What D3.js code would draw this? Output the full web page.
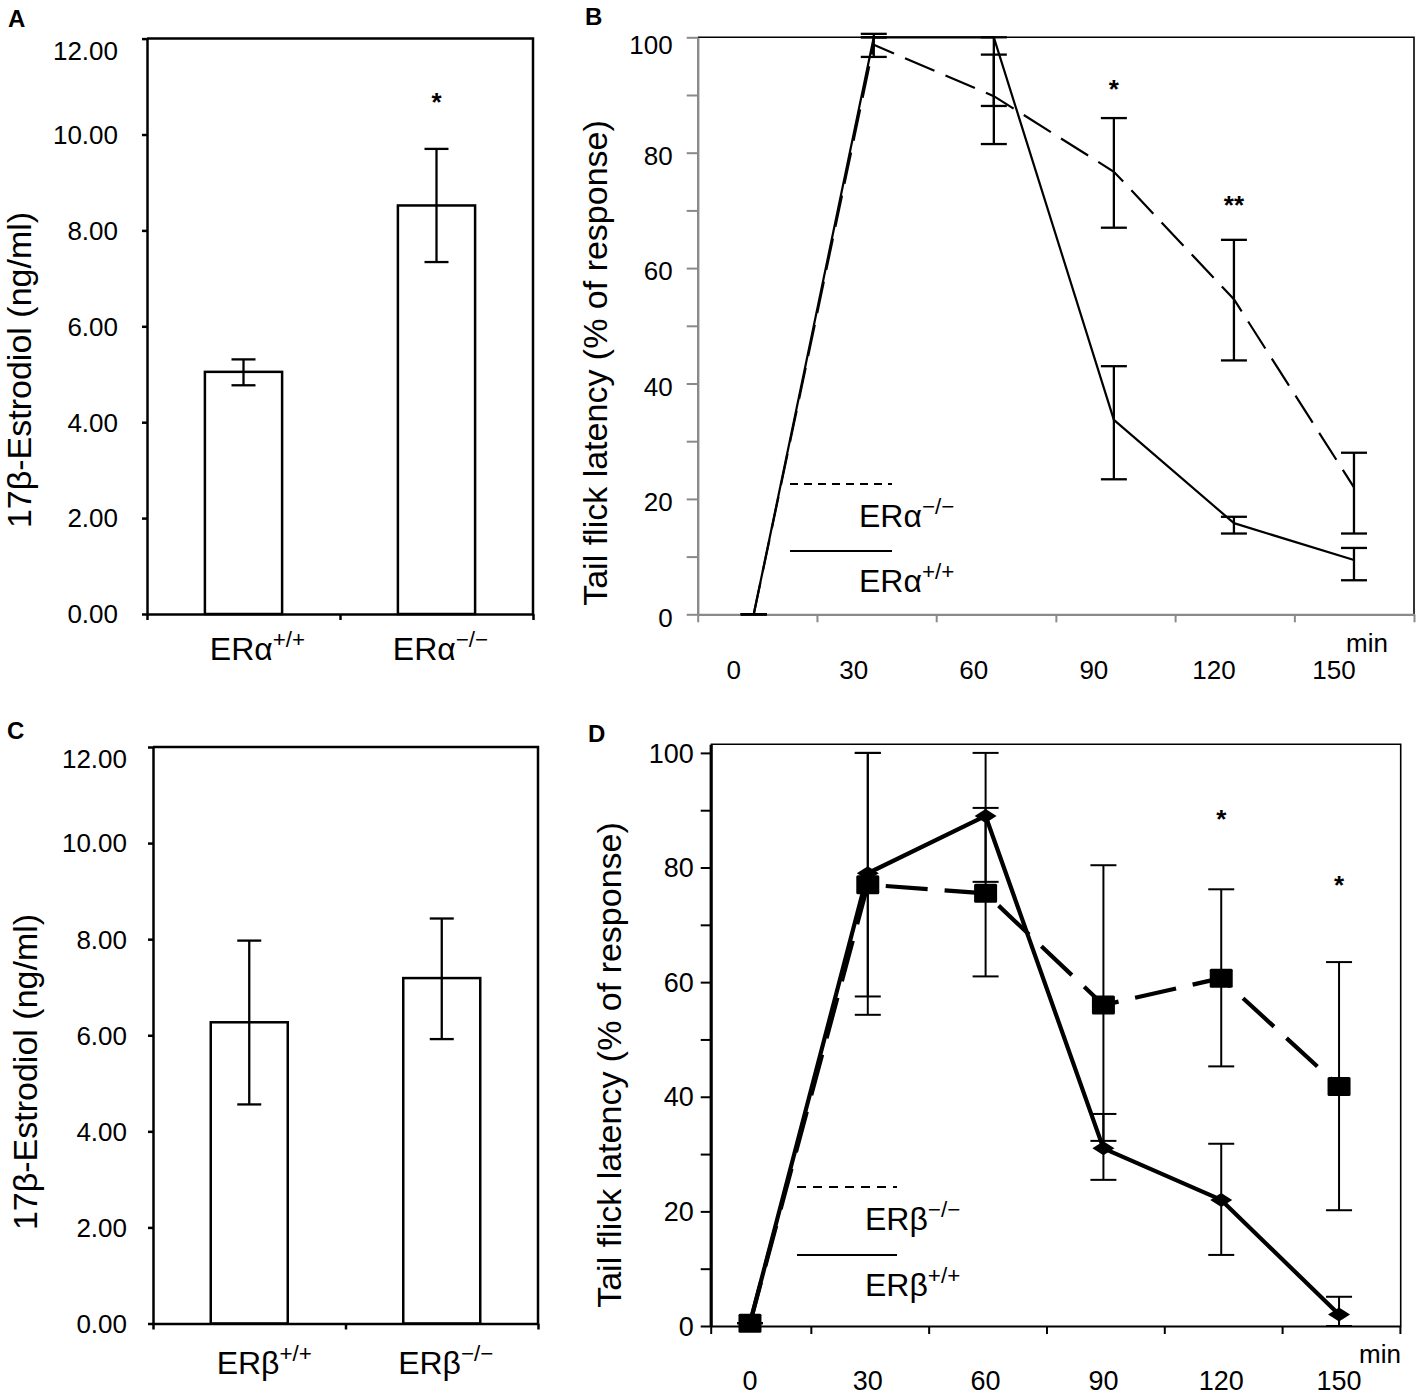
<!DOCTYPE html>
<html><head><meta charset="utf-8">
<script src="https://cdn.jsdelivr.net/npm/d3@7"></script>
<style>
body{margin:0;background:#fff}
svg text{font-family:"Liberation Sans",Arial,sans-serif;fill:#000}
</style>
</head><body>
<svg id="c" width="1416" height="1396"></svg>
<script>
// ---------- DATA ----------
const yTicksBar = [0, 2, 4, 6, 8, 10, 12];

// Panel A
const catsA = ["ERα+/+", "ERα−/−"];
const meansA = [5.05, 8.52];
const errLoA = [4.77, 7.34];
const errHiA = [5.31, 9.70];
const sigA = ["", "*"];
const sigYA = [null, 10.8];

// Panel C
const catsC = ["ERβ+/+", "ERβ−/−"];
const meansC = [6.27, 7.19];
const errLoC = [4.56, 5.92];
const errHiC = [7.97, 8.43];

// Panel B (ERα time course, min)
const timesB = [0, 30, 60, 90, 120, 150];
const wtB = [0, 100, 100, 33.7, 15.8, 9.4];
const wtBLo = [0, 100, 88.1, 23.4, 14.0, 5.9];
const wtBHi = [0, 100, 100, 43.0, 16.9, 11.5];
const koB = [0, 98.7, 89.8, 76.7, 54.6, 22.0];
const koBLo = [0, 96.6, 81.5, 67.0, 44.0, 14.0];
const koBHi = [0, 100.6, 97.0, 86.0, 64.9, 28.0];
const sigB = ["", "", "", "*", "**", ""];
const sigYB = [null, null, null, 92, 72, null];
const legendB = ["ERα−/−", "ERα+/+"];

// Panel D (ERβ time course, min)
const timesD = [0, 30, 60, 90, 120, 150];
const wtD = [0.5, 79, 89, 31, 22, 2];
const wtDLo = [0.5, 57.5, 77.5, 25.5, 12.4, 0];
const wtDHi = [0.5, 100, 100, 37, 31.8, 5.1];
const koD = [0.5, 77, 75.5, 56, 60.7, 41.8];
const koDLo = [0.5, 54.3, 61, 32.3, 45.3, 20.2];
const koDHi = [0.5, 100, 90.4, 80.4, 76.2, 63.5];
const sigD = ["", "", "", "", "*", "*"];
const sigYD = [null, null, null, null, 89.5, 78];
const legendD = ["ERβ−/−", "ERβ+/+"];

const yTicksLine = [0, 10, 20, 30, 40, 50, 60, 70, 80, 90, 100];

// ---------- DRAW ----------
const FONT = '"Liberation Sans", Arial, sans-serif';
const svg = d3.select("#c");
svg.append("rect").attr("width", 1416).attr("height", 1396).attr("fill", "#fff");

function supText(g, str, x, y, size, anchor) {
  const t = g.append("text").attr("x", x).attr("y", y).attr("font-size", size)
    .attr("text-anchor", anchor);
  t.append("tspan").text(str.slice(0, 3));
  t.append("tspan").attr("font-size", size * 0.7).attr("dy", -size * 0.42).text(str.slice(3));
  return t;
}

function panelLetter(t, x, y) {
  svg.append("text").attr("x", x).attr("y", y).attr("font-size", 24)
    .attr("font-weight", "bold").text(t);
}

function yTitle(t, x, y, size) {
  svg.append("text").attr("transform", `translate(${x},${y}) rotate(-90)`)
    .attr("text-anchor", "middle").attr("dominant-baseline", "central")
    .attr("font-size", size).text(t);
}

function barPanel(o) {
  const g = svg.append("g");
  const x = d3.scaleBand().domain(o.cats).range([o.x0, o.x1]);
  const y = d3.scaleLinear().domain([0, 12]).range([o.y0, o.y1]);
  const bw = x.bandwidth() * 0.4;
  // frame
  g.append("path").attr("d", `M${o.x0},${y(12)}H${o.x1}V${y(0)}`)
    .attr("fill", "none").attr("stroke", "#000").attr("stroke-width", 2.5);
  // bars
  g.selectAll("rect.bar").data(o.cats).join("rect").attr("class", "bar")
    .attr("x", d => x(d) + (x.bandwidth() - bw) / 2).attr("width", bw)
    .attr("y", (d, i) => y(o.means[i])).attr("height", (d, i) => y(0) - y(o.means[i]))
    .attr("fill", "#fff").attr("stroke", "#000").attr("stroke-width", 2.5);
  // error bars
  const cx = d => x(d) + x.bandwidth() / 2;
  const eb = g.selectAll("g.eb").data(o.cats).join("g").attr("class", "eb")
    .attr("stroke", "#000").attr("stroke-width", 2.3);
  eb.append("line").attr("x1", cx).attr("x2", cx)
    .attr("y1", (d, i) => y(o.lo[i])).attr("y2", (d, i) => y(o.hi[i]));
  eb.append("line").attr("x1", d => cx(d) - 12).attr("x2", d => cx(d) + 12)
    .attr("y1", (d, i) => y(o.lo[i])).attr("y2", (d, i) => y(o.lo[i]));
  eb.append("line").attr("x1", d => cx(d) - 12).attr("x2", d => cx(d) + 12)
    .attr("y1", (d, i) => y(o.hi[i])).attr("y2", (d, i) => y(o.hi[i]));
  // stars
  if (o.sig) {
    o.cats.forEach((c, i) => {
      if (o.sig[i]) g.append("text").attr("x", cx(c)).attr("y", y(o.sigY[i]) + 15)
        .attr("text-anchor", "middle").attr("font-size", 26).attr("font-weight", "bold").text(o.sig[i]);
    });
  }
  // y axis
  const ya = g.append("g").attr("transform", `translate(${o.x0},0)`)
    .call(d3.axisLeft(y).tickValues(yTicksBar).tickSize(5).tickSizeOuter(0)
      .tickPadding(o.pad).tickFormat(d3.format(".2f")));
  ya.attr("font-size", o.fs).attr("font-family", FONT);
  ya.select(".domain").attr("stroke-width", 2.5);
  ya.selectAll(".tick line").attr("stroke-width", 2.5);
  ya.selectAll(".tick text").attr("dy", d => d === 12 ? "0.8em" : "0.34em");
  // x axis (category boundaries)
  const xb = d3.scaleLinear().domain([0, o.cats.length]).range([o.x0, o.x1]);
  const xa = g.append("g").attr("transform", `translate(0,${o.y0})`)
    .call(d3.axisBottom(xb).tickValues(d3.range(o.cats.length + 1)).tickSize(6).tickSizeOuter(0).tickFormat(""));
  xa.select(".domain").attr("stroke-width", 2.5);
  xa.selectAll(".tick line").attr("stroke-width", 2.5);
  // category labels
  o.cats.forEach((c, i) => supText(g, c, cx(c) + o.labOff[i], o.labY, 32, "middle"));
}

barPanel({ cats: catsA, means: meansA, lo: errLoA, hi: errHiA, sig: sigA, sigY: sigYA,
  x0: 147, x1: 533, y0: 614, y1: 38.6, pad: 24, fs: 26, labY: 660, labOff: [14, 4] });
barPanel({ cats: catsC, means: meansC, lo: errLoC, hi: errHiC,
  x0: 153, x1: 538, y0: 1323.5, y1: 747, pad: 21, fs: 26, labY: 1374, labOff: [15, 4] });

function linePanel(o) {
  const g = svg.append("g");
  const x = o.x, y = o.y;
  const [xa0, xa1] = x.range();
  const [ya0, ya1] = y.range();
  // frame (top + right)
  g.append("path").attr("d", `M${xa0},${ya1}H${xa1}V${ya0}`)
    .attr("fill", "none").attr("stroke", "#000").attr("stroke-width", 1.6);
  // y axis
  const ya = g.append("g").attr("transform", `translate(${xa0},0)`)
    .call(d3.axisLeft(y).tickValues(yTicksLine).tickSize(o.ytick).tickSizeOuter(0)
      .tickPadding(o.ypad).tickFormat(d => d % 20 === 0 ? d : ""));
  ya.attr("font-size", o.fs).attr("font-family", FONT);
  ya.select(".domain").attr("stroke", o.axisColor).attr("stroke-width", o.axisW);
  ya.selectAll(".tick line").attr("stroke", o.axisColor).attr("stroke-width", 2);
  ya.selectAll(".tick text").attr("dy", d => d === 100 ? o.topDy : o.dy);
  // x axis
  const xa = g.append("g").attr("transform", `translate(0,${ya0})`)
    .call(d3.axisBottom(x).tickValues(o.xticks).tickSize(8).tickSizeOuter(0).tickFormat(""));
  xa.select(".domain").attr("stroke", o.axisColor).attr("stroke-width", 2.2);
  xa.selectAll(".tick line").attr("stroke", o.axisColor).attr("stroke-width", 2);
  // x labels
  g.selectAll("text.xl").data(o.times).join("text").attr("class", "xl")
    .attr("x", d => x(d) + o.labShift).attr("y", o.labY)
    .attr("text-anchor", "middle").attr("font-size", o.fs).text(d => d);
  g.append("text").attr("x", o.minX).attr("y", o.minY).attr("text-anchor", "middle")
    .attr("font-size", 26).text("min");
  // error bars
  const drawErr = (lo, hi) => {
    const e = g.append("g").attr("stroke", "#000").attr("stroke-width", o.errW);
    o.times.forEach((t, i) => {
      e.append("line").attr("x1", x(t)).attr("x2", x(t)).attr("y1", y(lo[i])).attr("y2", y(hi[i]));
      [lo[i], hi[i]].forEach(v => e.append("line").attr("x1", x(t) - o.cap).attr("x2", x(t) + o.cap)
        .attr("y1", y(v)).attr("y2", y(v)));
    });
  };
  drawErr(o.wtLo, o.wtHi);
  drawErr(o.koLo, o.koHi);
  // lines
  const line = d3.line().x((d, i) => x(o.times[i])).y(d => y(d));
  g.append("path").datum(o.ko).attr("d", line).attr("fill", "none").attr("stroke", "#000")
    .attr("stroke-width", o.lineW).attr("stroke-dasharray", o.dash);
  g.append("path").datum(o.wt).attr("d", line).attr("fill", "none").attr("stroke", "#000")
    .attr("stroke-width", o.lineW).attr("stroke-linejoin", "round");
  // markers
  if (o.markers) {
    g.selectAll("path.dia").data(o.wt).join("path").attr("class", "dia")
      .attr("d", (d, i) => { const cx = x(o.times[i]), cy = y(d);
        return `M${cx - 11},${cy}L${cx},${cy - 7}L${cx + 11},${cy}L${cx},${cy + 7}Z`; })
      .attr("fill", "#000");
    g.selectAll("rect.sq").data(o.ko).join("rect").attr("class", "sq")
      .attr("x", (d, i) => x(o.times[i]) - 11.5).attr("y", d => y(d) - 9.5)
      .attr("width", 23).attr("height", 19).attr("rx", 1.5).attr("fill", "#000");
  }
  // stars
  o.times.forEach((t, i) => {
    if (o.sig[i]) g.append("text").attr("x", x(t)).attr("y", y(o.sigY[i]) + 15)
      .attr("text-anchor", "middle").attr("font-size", 26).attr("font-weight", "bold").text(o.sig[i]);
  });
  // legend
  const L = o.leg;
  g.append("line").attr("x1", L.x0).attr("x2", L.x1).attr("y1", L.y1).attr("y2", L.y1)
    .attr("stroke", "#000").attr("stroke-width", 2.2).attr("stroke-dasharray", L.dash);
  g.append("line").attr("x1", L.x0).attr("x2", L.x1).attr("y1", L.y2).attr("y2", L.y2)
    .attr("stroke", "#000").attr("stroke-width", 2.2);
  supText(g, o.legendLabels[0], L.tx, L.b1, 32, "start");
  supText(g, o.legendLabels[1], L.tx, L.b2, 32, "start");
}

linePanel({
  x: d3.scaleLinear().domain([-14, 165]).range([697.7, 1414]),
  y: d3.scaleLinear().domain([0, 100]).range([614.3, 37.3]),
  times: timesB, wt: wtB, wtLo: wtBLo, wtHi: wtBHi, ko: koB, koLo: koBLo, koHi: koBHi,
  sig: sigB, sigY: sigYB, legendLabels: legendB, fs: 26,
  axisColor: "#8a8a8a", axisW: 2.4, ytick: 11, ypad: 14, dy: "0.45em", topDy: "0.62em",
  xticks: [-14, 15.8, 45.6, 75.5, 105.3, 135.1, 165], labShift: -20, labY: 679,
  minX: 1367, minY: 652, errW: 2.3, cap: 13, lineW: 2.2, dash: "32,12", markers: false,
  leg: { x0: 790, x1: 892, y1: 484, y2: 551, dash: "8,6", tx: 859, b1: 527, b2: 592 }
});

linePanel({
  x: d3.scaleLinear().domain([-10, 165.7]).range([710.7, 1400.7]),
  y: d3.scaleLinear().domain([0, 101.5]).range([1326, 744.3]),
  times: timesD, wt: wtD, wtLo: wtDLo, wtHi: wtDHi, ko: koD, koLo: koDLo, koHi: koDHi,
  sig: sigD, sigY: sigYD, legendLabels: legendD, fs: 27,
  axisColor: "#000", axisW: 3.2, ytick: 10, ypad: 7, dy: "0.34em", topDy: "0.34em",
  xticks: [-10, 15.5, 45.5, 75.5, 105.5, 135.5, 165.5], labShift: 0, labY: 1390,
  minX: 1380, minY: 1363, errW: 2, cap: 13, lineW: 4.2, dash: "42,17", markers: true,
  leg: { x0: 797, x1: 897, y1: 1187, y2: 1255, dash: "9,7", tx: 865, b1: 1230, b2: 1296 }
});

// titles and letters
yTitle("17β-Estrodiol (ng/ml)", 19, 370, 34);
yTitle("17β-Estrodiol (ng/ml)", 25, 1072, 34);
yTitle("Tail flick latency (% of response)", 595, 363, 34);
yTitle("Tail flick latency (% of response)", 609, 1065, 34);
panelLetter("A", 8, 27);
panelLetter("B", 585, 25);
panelLetter("C", 7, 739);
panelLetter("D", 588, 742);
</script>
</body></html>
